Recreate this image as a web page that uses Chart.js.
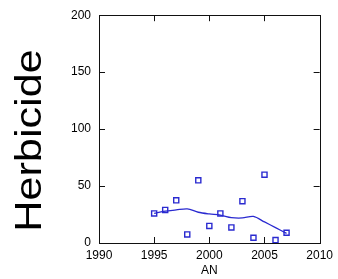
<!DOCTYPE html>
<html><head><meta charset="utf-8">
<script src="https://cdn.jsdelivr.net/npm/chart.js@4"></script>
<style>html,body{margin:0;padding:0;background:#fff}canvas{display:block}</style>
</head><body>
<canvas id="c" width="338" height="279"></canvas>
<script>
const years = [1995,1996,1997,1998,1999,2000,2001,2002,2003,2004,2005,2006,2007];
const herbicide = [26,29,37.5,7.5,55,15,26,13.7,36.7,4.6,60,2.6,9];
const smooth = [26,28,29,30,27,25.5,24.5,22.3,22,23.3,18.5,13.5,8.5];
const xTicks = [1990,1995,2000,2005,2010];
const yTicks = [0,50,100,150,200];
const yTitle = 'Herbicide';
const xTitle = 'AN';

const blue = '#2a2ad0';
const boxPlugin = {
  id:'box',
  afterDatasetsDraw(chart){
    const {ctx, chartArea:a, scales:{x,y}} = chart;
    ctx.save();
    ctx.strokeStyle='#111'; ctx.lineWidth=1;
    ctx.strokeRect(Math.round(a.left)+0.5, Math.round(a.top)+0.5, Math.round(a.right-a.left), Math.round(a.bottom-a.top));
    ctx.beginPath();
    const L=6;
    xTicks.slice(1,-1).forEach(v=>{
      const px=Math.round(x.getPixelForValue(v))+0.5;
      ctx.moveTo(px,a.bottom); ctx.lineTo(px,a.bottom-L);
      ctx.moveTo(px,a.top); ctx.lineTo(px,a.top+L);
    });
    yTicks.slice(1,-1).forEach(v=>{
      const py=Math.round(y.getPixelForValue(v))+0.5;
      ctx.moveTo(a.left,py); ctx.lineTo(a.left+L,py);
      ctx.moveTo(a.right,py); ctx.lineTo(a.right-L,py);
    });
    ctx.stroke();
    // y title
    ctx.translate(41,140.5);
    ctx.rotate(-Math.PI/2);
    ctx.scale(1.2,1);
    ctx.fillStyle='#000';
    ctx.font='36px "Liberation Sans", Arial, sans-serif';
    ctx.textAlign='center'; ctx.textBaseline='alphabetic';
    ctx.fillText(yTitle,0,0);
    ctx.restore();
  }
};

new Chart(document.getElementById('c'),{
  type:'scatter',
  data:{datasets:[
    {data:years.map((x,i)=>({x,y:herbicide[i]})), pointStyle:'rect', pointRadius:3.6, borderColor:blue, backgroundColor:'rgba(0,0,0,0)', borderWidth:1.4, showLine:false},
    {data:years.map((x,i)=>({x,y:smooth[i]})), showLine:true, pointRadius:0, borderColor:blue, borderWidth:1.3, tension:0.3, fill:false}
  ]},
  options:{
    responsive:false, animation:false,
    layout:{padding:{left:0,right:10,top:14,bottom:0}},
    plugins:{legend:{display:false},tooltip:{enabled:false}},
    scales:{
      x:{type:'linear',min:1990,max:2010,
        afterBuildTicks(s){s.ticks=xTicks.map(v=>({value:v}));},
        afterFit(s){s.height=36;},
        grid:{display:false,drawTicks:false}, border:{display:false},
        ticks:{padding:5,color:'#000',font:{size:12,family:'"Liberation Sans", Arial, sans-serif'},callback:v=>String(v),maxRotation:0,autoSkip:false},
        title:{display:true,text:xTitle,color:'#000',font:{size:12,family:'"Liberation Sans", Arial, sans-serif'},padding:{top:0,bottom:1}}
      },
      y:{type:'linear',min:0,max:200,
        afterBuildTicks(s){s.ticks=yTicks.map(v=>({value:v}));},
        afterFit(s){s.width=99;},
        grid:{display:false,drawTicks:false}, border:{display:false},
        ticks:{padding:8,color:'#000',font:{size:12,family:'"Liberation Sans", Arial, sans-serif'},autoSkip:false}
      }
    }
  },
  plugins:[boxPlugin]
});
</script>
</body></html>
